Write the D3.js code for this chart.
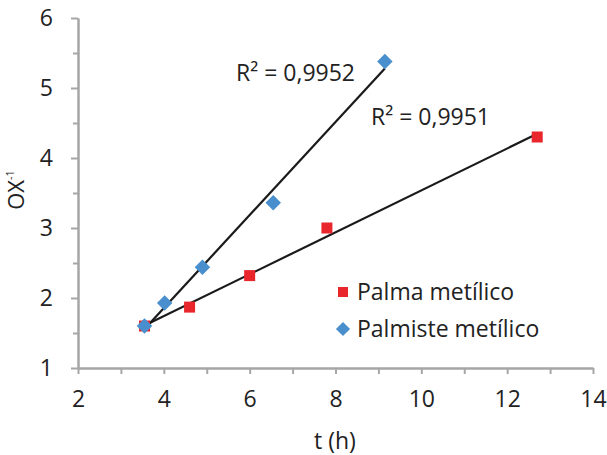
<!DOCTYPE html>
<html>
<head>
<meta charset="utf-8">
<script src="https://cdn.jsdelivr.net/npm/d3@7"></script>
<style>
  html, body { margin: 0; padding: 0; background: #fff; }
  svg text { font-family: "Open Sans", "Noto Sans", sans-serif; fill: #222; }
</style>
</head>
<body>
<svg id="chart" width="607" height="455"></svg>
<script>
// Palmiste metílico (blue diamonds)
const palmisteT = [3.55, 4.02, 4.9, 6.55, 9.15];
const palmisteOX = [1.6, 1.93, 2.44, 3.36, 5.38];
// Palma metílico (red squares) - first point sits under the first diamond
const palmaT = [3.55, 4.6, 6.0, 7.8, 12.7];
const palmaOX = [1.6, 1.87, 2.32, 3.0, 4.3];

const xTicks = [2, 4, 6, 8, 10, 12, 14];
const xMinor = [3, 5, 7, 9, 11, 13];
const yTicks = [1, 2, 3, 4, 5, 6];
const yMinor = [1.5, 2.5, 3.5, 4.5, 5.5];

const seriesNames = ['Palma metílico', 'Palmiste metílico'];
const r2Labels = ['R² = 0,9951', 'R² = 0,9952'];

const RED = '#e8262b';
const BLUE = '#4a8fcd';
const AXIS = '#a6a6a6';

const svg = d3.select('#chart');

const x = d3.scaleLinear().domain([2, 14]).range([78, 593]);
const y = d3.scaleLinear().domain([1, 6]).range([368, 18]);

function styleAxis(g) {
  g.select('.domain').attr('stroke', AXIS).attr('stroke-width', 2);
  g.selectAll('.tick line').attr('stroke', AXIS).attr('stroke-width', 2);
  g.selectAll('.tick text').style('font-size', '23px').attr('fill', '#222');
}

// minor ticks
svg.append('g')
  .attr('transform', 'translate(78,0)')
  .call(d3.axisLeft(y).tickValues(yMinor).tickSize(5).tickSizeOuter(0).tickFormat(''))
  .call(styleAxis);
svg.append('g')
  .attr('transform', 'translate(0,368)')
  .call(d3.axisBottom(x).tickValues(xMinor).tickSize(6).tickSizeOuter(0).tickFormat(''))
  .call(styleAxis);

// major ticks
svg.append('g')
  .attr('transform', 'translate(78,0)')
  .call(d3.axisLeft(y).tickValues(yTicks).tickSize(7).tickSizeOuter(0).tickPadding(18).tickFormat(d3.format('d')))
  .call(styleAxis);
svg.append('g')
  .attr('transform', 'translate(0,368)')
  .call(d3.axisBottom(x).tickValues(xTicks).tickSize(6).tickSizeOuter(0).tickPadding(17).tickFormat(d3.format('d')))
  .call(styleAxis);

// axis titles
svg.append('text')
  .attr('x', 335).attr('y', 449)
  .attr('text-anchor', 'middle')
  .style('font-size', '23px')
  .text('t (h)');

const yt = svg.append('text')
  .attr('transform', 'translate(24,190) rotate(-90)')
  .attr('text-anchor', 'middle')
  .style('font-size', '22px');
yt.append('tspan').text('OX');
yt.append('tspan').attr('dy', -10).style('font-size', '11px').text('-1');

// least squares fit
function fit(xs, ys) {
  const mx = d3.mean(xs), my = d3.mean(ys);
  const sxy = d3.sum(xs, (v, i) => (v - mx) * (ys[i] - my));
  const sxx = d3.sum(xs, v => (v - mx) * (v - mx));
  const b = sxy / sxx;
  const a = my - b * mx;
  const x0 = d3.min(xs), x1 = d3.max(xs);
  return [[x0, a + b * x0], [x1, a + b * x1]];
}

const line = d3.line().x(d => x(d[0])).y(d => y(d[1]));

svg.append('path')
  .attr('d', line(fit(palmaT, palmaOX)))
  .attr('stroke', '#1a1a1a').attr('stroke-width', 2.2).attr('fill', 'none');
svg.append('path')
  .attr('d', line(fit(palmisteT, palmisteOX)))
  .attr('stroke', '#1a1a1a').attr('stroke-width', 2.2).attr('fill', 'none');

// markers
const palma = palmaT.map((t, i) => ({ t: t, v: palmaOX[i] }));
const palmiste = palmisteT.map((t, i) => ({ t: t, v: palmisteOX[i] }));

svg.selectAll('.sq')
  .data(palma)
  .enter()
  .append('rect')
  .attr('class', 'sq')
  .attr('x', d => x(d.t) - 5.5)
  .attr('y', d => y(d.v) - 5.5)
  .attr('width', 11).attr('height', 11)
  .attr('fill', RED);

const diamond = d3.symbol().type(d3.symbolSquare).size(120);
svg.selectAll('.dm')
  .data(palmiste)
  .enter()
  .append('path')
  .attr('class', 'dm')
  .attr('d', diamond)
  .attr('transform', d => `translate(${x(d.t)},${y(d.v)}) rotate(45)`)
  .attr('fill', BLUE);

// R² labels
svg.append('text').attr('x', 371).attr('y', 125).style('font-size', '23px').text(r2Labels[0]);
svg.append('text').attr('x', 236).attr('y', 81).style('font-size', '23px').text(r2Labels[1]);

// legend
svg.append('rect').attr('x', 338).attr('y', 287).attr('width', 10).attr('height', 10).attr('fill', RED);
svg.append('text').attr('x', 357).attr('y', 300).style('font-size', '23px').text(seriesNames[0]);
svg.append('path')
  .attr('d', d3.symbol().type(d3.symbolSquare).size(100))
  .attr('transform', 'translate(343,329) rotate(45)')
  .attr('fill', BLUE);
svg.append('text').attr('x', 357).attr('y', 337).style('font-size', '23px').text(seriesNames[1]);
</script>
</body>
</html>
